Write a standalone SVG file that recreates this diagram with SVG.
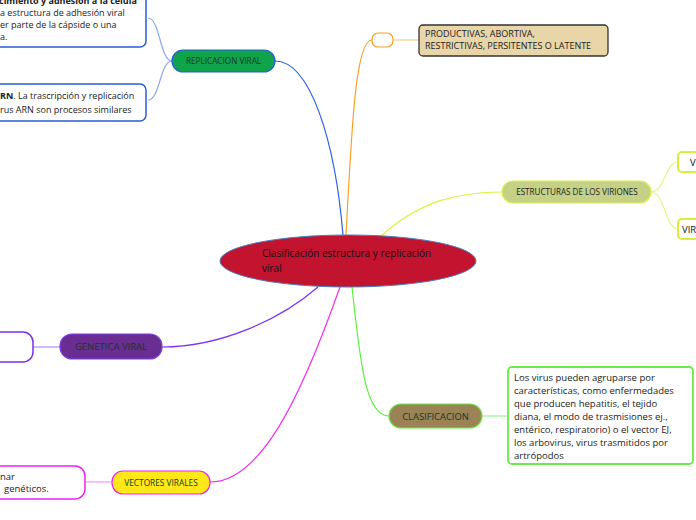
<svg xmlns="http://www.w3.org/2000/svg" width="696" height="520" viewBox="0 0 696 520">
<style>
text{font-family:"Open Sans","Noto Sans","DejaVu Sans",sans-serif;}
.nl{font-size:8.2px;fill:#123a2a;text-anchor:middle;}
.bt{font-size:9px;fill:#222;}
.ct{font-size:9.5px;fill:#222;}
.c{fill:none;stroke-width:1.2;}
</style>
<rect width="696" height="520" fill="#ffffff"/>
<g id="connectors">
<path class="c" stroke="#2b63e6" d="M343,235 C335,140 310,61 275,61"/>
<path class="c" stroke="#f7a028" d="M346,235 C352,120 356,40 372,40"/>
<path class="c" stroke="#d9f542" d="M380,237 C420,200 460,192 502,192"/>
<path class="c" stroke="#7b2ff7" d="M318,287 C280,320 220,347 162,347"/>
<path class="c" stroke="#5cf03c" d="M352,287 C360,360 365,416 389,416"/>
<path class="c" stroke="#f02ef0" d="M340,287 C300,400 260,482 210,482"/>
<path class="c" stroke="#8aa8f0" d="M172,61 C160,61 160,18 148,18"/>
<path class="c" stroke="#8aa8f0" d="M172,61 C160,61 160,100 148,100"/>
<path class="c" stroke="#f9c98a" d="M393,40 L419,40"/>
<path class="c" stroke="#e6f58a" d="M651,192 C665,192 665,162 678,162"/>
<path class="c" stroke="#e6f58a" d="M651,192 C665,192 665,229 678,229"/>
<path class="c" stroke="#b48af7" d="M33,347 L60,347"/>
<path class="c" stroke="#9af58a" d="M482,416 L508,416"/>
<path class="c" stroke="#f59af5" d="M85,482 L112,482"/>
</g>
<g id="center">
<ellipse cx="348" cy="261" rx="128" ry="26" fill="#c2132f" stroke="#4a7fc1" stroke-width="1"/>
<text x="262" y="257" style="font-size:10px;fill:#111">Clasificación estructura y replicación</text>
<text x="262" y="272" style="font-size:10px;fill:#111">viral</text>
</g>
<g id="replicacion">
<rect x="172" y="50" width="103" height="22" rx="11" fill="#0fa34a" stroke="#2a5bd7" stroke-width="1.2"/>
<text class="nl" x="223.5" y="64">REPLICACION VIRAL</text>
</g>
<g id="adhesion">
<rect x="-10" y="-20" width="156" height="67" rx="6" fill="#fff" stroke="#2a5bd7" stroke-width="1.5"/>
<text class="bt" x="-1" y="4" style="font-weight:bold">cimiento y adhesión a la célula</text>
<text class="bt" x="0" y="16">a estructura de adhesión viral</text>
<text class="bt" x="0" y="28">er parte de la cápside o una</text>
<text class="bt" x="0" y="39.5">a.</text>
</g>
<g id="arn">
<rect x="-10" y="84" width="156" height="37" rx="6" fill="#fff" stroke="#2a5bd7" stroke-width="1.5"/>
<text class="bt" x="0" y="99"><tspan style="font-weight:bold">RN</tspan>. La trascripción y replicación</text>
<text class="bt" x="0" y="113">rus ARN son procesos similares</text>
</g>
<g id="orange">
<rect x="372" y="33" width="21" height="14" rx="6" fill="#fff" stroke="#f7a028" stroke-width="1.2"/>
</g>
<g id="productivas">
<rect x="419" y="25" width="189" height="31" rx="4" fill="#e8d5a8" stroke="#333" stroke-width="1.3"/>
<text x="425" y="37" style="font-size:9px;fill:#222">PRODUCTIVAS, ABORTIVA,</text>
<text x="425" y="49" style="font-size:9px;fill:#222">RESTRICTIVAS, PERSITENTES O LATENTE</text>
</g>
<g id="estructuras">
<rect x="502" y="181" width="149" height="22" rx="11" fill="#c5d186" stroke="#e0f050" stroke-width="1.2"/>
<text class="nl" x="577" y="195" style="fill:#222;font-size:8.1px">ESTRUCTURAS DE LOS VIRIONES</text>
</g>
<g id="v1">
<rect x="678" y="152" width="30" height="20" rx="4" fill="#fff" stroke="#d4f03c" stroke-width="2"/>
<text x="690" y="166" style="font-size:9.5px;fill:#111">V</text>
</g>
<g id="v2">
<rect x="678" y="219" width="30" height="20" rx="4" fill="#fff" stroke="#d4f03c" stroke-width="2"/>
<text x="682" y="233" style="font-size:9.5px;fill:#111">VIR</text>
</g>
<g id="genetica">
<rect x="60" y="334" width="102" height="25" rx="12" fill="#6a2d91" stroke="#7b3fe4" stroke-width="1.2"/>
<text class="nl" x="111" y="350" style="font-size:9.5px">GENETICA VIRAL</text>
</g>
<g id="genleft">
<rect x="-20" y="332" width="53" height="30" rx="10" fill="#fff" stroke="#7a2ff0" stroke-width="1.5"/>
</g>
<g id="clasificacion">
<rect x="389" y="404" width="93" height="24" rx="12" fill="#9b8356" stroke="#66ee44" stroke-width="1.2"/>
<text class="nl" x="435.5" y="419.5" style="font-size:9.4px">CLASIFICACION</text>
</g>
<g id="clastext">
<rect x="508" y="367" width="185" height="97" rx="4" fill="#fff" stroke="#66ee44" stroke-width="1.8"/>
<text class="ct" x="514" y="381">Los virus pueden agruparse por</text>
<text class="ct" x="514" y="394">características, como enfermedades</text>
<text class="ct" x="514" y="407">que producen hepatitis, el tejido</text>
<text class="ct" x="514" y="420">diana, el modo de trasmisiones ej.,</text>
<text class="ct" x="514" y="433">entérico, respiratorio) o el vector EJ,</text>
<text class="ct" x="514" y="446">los arbovirus, virus trasmitidos por</text>
<text class="ct" x="514" y="459">artrópodos</text>
</g>
<g id="vectores">
<rect x="112" y="471" width="98" height="23" rx="11" fill="#ffe81a" stroke="#ee22ee" stroke-width="1.2"/>
<text class="nl" x="161" y="485.5" style="font-size:8.3px">VECTORES VIRALES</text>
</g>
<g id="vecleft">
<rect x="-20" y="466" width="105" height="33" rx="10" fill="#fff" stroke="#ee22ee" stroke-width="1.5"/>
<text class="ct" x="0" y="480">nar</text>
<text class="ct" x="4" y="492">genéticos.</text>
</g>
</svg>
